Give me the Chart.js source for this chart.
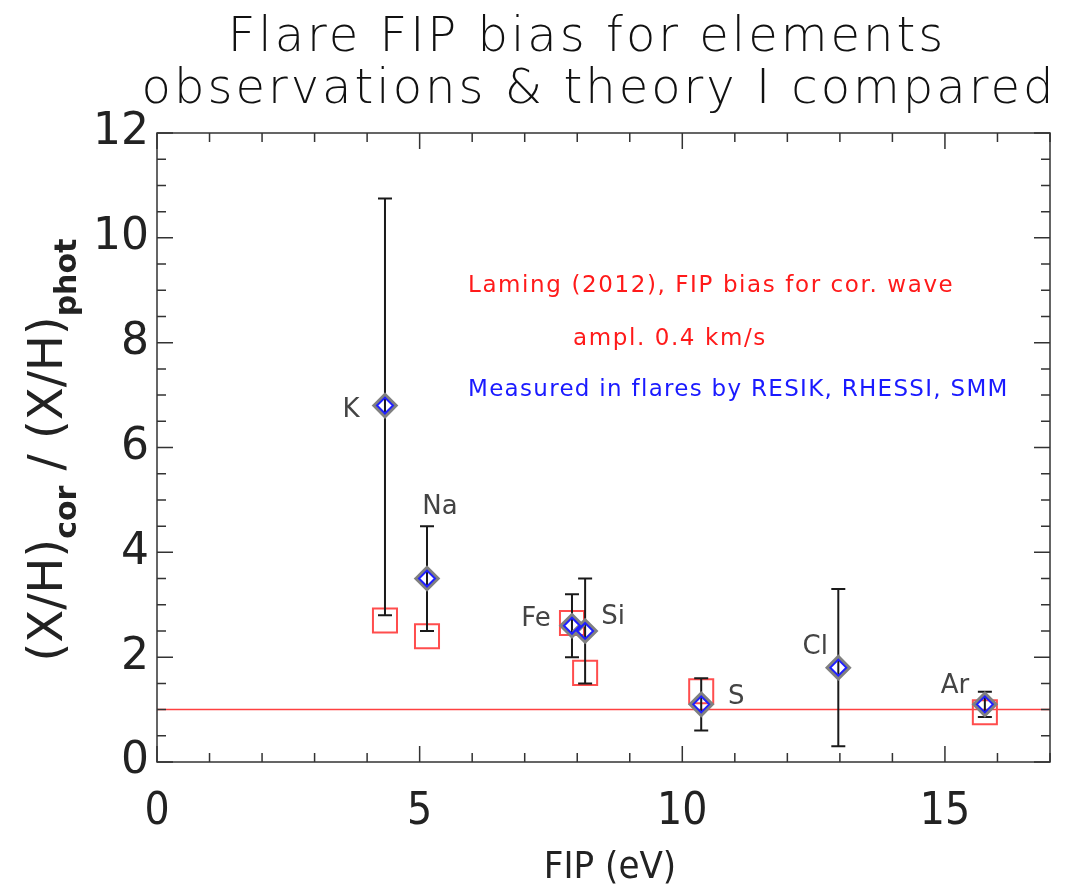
<!DOCTYPE html>
<html>
<head>
<meta charset="utf-8">
<title>Flare FIP bias</title>
<script src="https://cdn.jsdelivr.net/npm/chart.js@4.4.1/dist/chart.umd.min.js"></script>
<style>
  html, body { margin: 0; padding: 0; background: #fff; }
  #wrap { width: 1080px; height: 888px; }
</style>
</head>
<body>
<div id="wrap"><canvas id="fip-chart" width="1080" height="888"></canvas></div>
<script>
// data
const elements = ["K", "Na", "Fe", "Si", "S", "Cl", "Ar"];
const fip = [4.34, 5.14, 7.9, 8.15, 10.36, 12.97, 15.76];
const measured = [6.8, 3.5, 2.6, 2.5, 1.1, 1.8, 1.1];
const errLow = [2.8, 2.5, 2.0, 1.5, 0.6, 0.3, 0.86];
const errHigh = [10.75, 4.5, 3.2, 3.5, 1.6, 3.3, 1.34];

const theoryFip = [4.34, 5.14, 7.9, 8.15, 10.36, 15.76];
const theory = [2.7, 2.4, 2.65, 1.7, 1.35, 0.95];

const refLevel = 1;
const xRange = [0, 17];
const yRange = [0, 12];
const xTickValues = [0, 5, 10, 15];
const yTickValues = [0, 2, 4, 6, 8, 10, 12];

// where each element name sits relative to its diamond (px)
const labelOffsets = {
  K: [-34, 5], Na: [13, -71], Fe: [-36, -6], Si: [28, -14],
  S: [35, -7], Cl: [-23, -20], Ar: [-30, -18],
};

const measuredPoints = fip.map((x, i) => ({ x: x, y: measured[i] }));
const theoryPoints = theoryFip.map((x, i) => ({ x: x, y: theory[i] }));
const refLine = xRange.map((x) => ({ x: x, y: refLevel }));

// error bars, drawn over the red squares
const errorBars = {
  id: "errorBars",
  afterDatasetDraw(chart, args) {
    if (chart.data.datasets[args.index].label !== "theory") return;
    const ctx = chart.ctx;
    const xs = chart.scales.x;
    const ys = chart.scales.y;
    ctx.save();
    ctx.strokeStyle = "#1a1a1a";
    ctx.lineWidth = 2;
    fip.forEach((v, i) => {
      const px = xs.getPixelForValue(v);
      const top = ys.getPixelForValue(errHigh[i]);
      const bot = ys.getPixelForValue(errLow[i]);
      ctx.beginPath();
      ctx.moveTo(px, top);
      ctx.lineTo(px, bot);
      ctx.moveTo(px - 7, top);
      ctx.lineTo(px + 7, top);
      ctx.moveTo(px - 7, bot);
      ctx.lineTo(px + 7, bot);
      ctx.stroke();
    });
    ctx.restore();
  },
};

// IDL style box with inward ticks, titles, labels and notes
const frame = {
  id: "frame",
  afterDraw(chart) {
    const ctx = chart.ctx;
    const a = chart.chartArea;
    const xs = chart.scales.x;
    const ys = chart.scales.y;
    ctx.save();
    ctx.strokeStyle = "#333";
    ctx.lineWidth = 1.5;
    ctx.strokeRect(a.left, a.top, a.right - a.left, a.bottom - a.top);

    ctx.beginPath();
    for (let v = xRange[0]; v <= xRange[1]; v += 1) {
      const px = xs.getPixelForValue(v);
      const len = v % 5 === 0 ? 16 : 9;
      ctx.moveTo(px, a.bottom);
      ctx.lineTo(px, a.bottom - len);
      ctx.moveTo(px, a.top);
      ctx.lineTo(px, a.top + len);
    }
    for (let v = yRange[0]; v <= yRange[1]; v += 0.5) {
      const py = ys.getPixelForValue(v);
      const len = v % 2 === 0 ? 16 : 9;
      ctx.moveTo(a.left, py);
      ctx.lineTo(a.left + len, py);
      ctx.moveTo(a.right, py);
      ctx.lineTo(a.right - len, py);
    }
    ctx.stroke();

    // element names
    ctx.fillStyle = "#444";
    ctx.font = "26px 'DejaVu Sans'";
    ctx.textAlign = "center";
    ctx.textBaseline = "middle";
    elements.forEach((el, i) => {
      const off = labelOffsets[el];
      ctx.fillText(el, xs.getPixelForValue(fip[i]) + off[0], ys.getPixelForValue(measured[i]) + off[1]);
    });

    // notes
    ctx.textAlign = "left";
    ctx.font = "23px 'DejaVu Sans'";
    ctx.letterSpacing = "1.6px";
    ctx.fillStyle = "#ff1a1a";
    ctx.fillText("Laming (2012), FIP bias for cor. wave", 468, 286);
    ctx.fillText("ampl. 0.4 km/s", 573, 339);
    ctx.fillStyle = "#1a1aff";
    ctx.letterSpacing = "1.3px";
    ctx.fillText("Measured in flares by RESIK, RHESSI, SMM", 468, 390);

    // title
    ctx.fillStyle = "#111";
    ctx.textAlign = "center";
    ctx.textBaseline = "alphabetic";
    ctx.font = "200 48px 'DejaVu Sans'";
    ctx.letterSpacing = "3px";
    ctx.fillText("Flare FIP bias for elements", 587, 51);
    ctx.fillText("observations & theory I compared", 599, 103);
    ctx.letterSpacing = "0px";

    // x title
    ctx.font = "38px 'Liberation Sans Narrow', 'DejaVu Sans Condensed', sans-serif";
    ctx.fillStyle = "#222";
    ctx.fillText("FIP (eV)", 610, 878);

    // y title with subscripts
    const parts = [
      ["(X/H)", "400 48px 'DejaVu Sans'", 0],
      ["cor", "bold 30px 'DejaVu Sans'", 14],
      [" / (X/H)", "400 48px 'DejaVu Sans'", 0],
      ["phot", "bold 30px 'DejaVu Sans'", 14],
    ];
    let total = 0;
    parts.forEach((p) => { ctx.font = p[1]; total += ctx.measureText(p[0]).width; });
    ctx.translate(62, 450);
    ctx.rotate(-Math.PI / 2);
    ctx.textAlign = "left";
    let cx = -total / 2;
    parts.forEach((p) => {
      ctx.font = p[1];
      ctx.fillText(p[0], cx, p[2]);
      cx += ctx.measureText(p[0]).width;
    });
    ctx.restore();
  },
};

const fipCanvas = document.getElementById("fip-chart");
const fipChart = new Chart(fipCanvas, {
  type: "scatter",
  data: {
    datasets: [
      {
        label: "measured",
        data: measuredPoints,
        pointStyle: "rectRot",
        pointRadius: 8,
        borderColor: "#1f1fff",
        borderWidth: 2,
        backgroundColor: "rgba(0,0,0,0)",
        order: 0,
      },
      {
        label: "measured-outline",
        data: measuredPoints,
        pointStyle: "rectRot",
        pointRadius: 10.5,
        borderColor: "#808080",
        borderWidth: 4,
        backgroundColor: "rgba(0,0,0,0)",
        order: 1,
      },
      {
        label: "theory",
        data: theoryPoints,
        pointStyle: "rect",
        pointRadius: 17,
        borderColor: "#ff4d4d",
        borderWidth: 2,
        backgroundColor: "rgba(0,0,0,0)",
        order: 2,
      },
      {
        label: "photospheric",
        data: refLine,
        showLine: true,
        pointRadius: 0,
        borderColor: "#ff4040",
        borderWidth: 1.5,
        order: 3,
      },
    ],
  },
  options: {
    responsive: false,
    animation: false,
    events: [],
    layout: { padding: { top: 133, right: 30, left: 0, bottom: 0 } },
    scales: {
      x: {
        type: "linear",
        min: xRange[0],
        max: xRange[1],
        afterBuildTicks: (scale) => { scale.ticks = xTickValues.map((v) => ({ value: v })); },
        afterFit: (scale) => { scale.height = 126; },
        grid: { display: false, drawTicks: false },
        border: { display: false },
        ticks: {
          padding: 24,
          color: "#222",
          font: { family: "'Liberation Sans Narrow', 'DejaVu Sans Condensed', sans-serif", size: 44 },
        },
      },
      y: {
        type: "linear",
        min: yRange[0],
        max: yRange[1],
        afterBuildTicks: (scale) => { scale.ticks = yTickValues.map((v) => ({ value: v })); },
        afterFit: (scale) => { scale.width = 157; },
        grid: { display: false, drawTicks: false },
        border: { display: false },
        ticks: {
          padding: 8,
          color: "#222",
          font: { family: "'DejaVu Sans'", size: 44 },
        },
      },
    },
    plugins: {
      legend: { display: false },
      tooltip: { enabled: false },
      title: { display: false },
    },
  },
  plugins: [errorBars, frame],
});
</script>
</body>
</html>
